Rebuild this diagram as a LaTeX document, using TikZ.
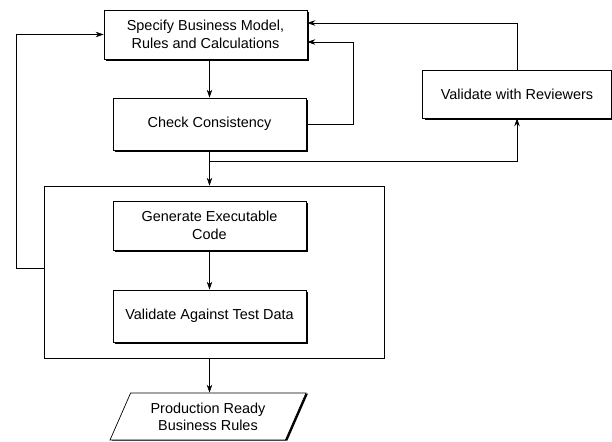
\documentclass[tikz,border=0pt]{standalone}
\usepackage{fontspec}
\setmainfont{Liberation Sans}
\usetikzlibrary{arrows.meta, positioning, shapes.geometric, shadows}

\tikzset{
  procbox/.style={draw=black, line width=0.7bp, fill=white, align=center,
    font=\fontsize{14.5}{18}\selectfont, minimum width=193bp, minimum height=50bp, inner sep=2bp,
    drop shadow={shadow xshift=2bp, shadow yshift=-2bp, fill=black, opacity=1}},
  groupbox/.style={draw=black, line width=0.6bp, minimum width=340bp, minimum height=172bp, inner sep=0pt},
  outbox/.style={trapezium, trapezium left angle=61, trapezium right angle=119, trapezium stretches=true,
    draw=black, line width=0.7bp, fill=white, align=center, font=\fontsize{14.5}{17}\selectfont,
    minimum width=196bp, minimum height=47bp, inner sep=0pt,
    drop shadow={shadow xshift=2bp, shadow yshift=-0.5bp, fill=black, opacity=1}},
  flow/.style={draw=black, line width=0.6bp, -{Stealth[length=8bp, width=5.5bp]}},
  link/.style={draw=black, line width=0.6bp}
}

\begin{document}
\begin{tikzpicture}[x=1bp, y=-1bp]
\useasboundingbox (0,0) rectangle (612,442);

% === Review loop ===
\node[procbox, minimum width=203bp, minimum height=49bp] (spec) at (205.5,34.5) {Specify Business Model,\\Rules and Calculations};
\node[procbox, minimum height=52bp] (check) at (209.5,124) {Check Consistency};
\node[procbox, minimum width=189bp, minimum height=48bp] (review) at (517,94) {Validate with Reviewers};

% === Build stage ===
\node[groupbox] (stage) at (214,272) {};
\node[procbox, minimum height=49bp] (gen) at (209.5,225.5) {Generate Executable\\Code};
\node[procbox, minimum height=52bp] (valtest) at (209.5,316) {Validate Against Test Data};

% === Output ===
\node[outbox] (prod) at (208,416.5) {Production Ready\\Business Rules};

% === Connectors ===
\draw[flow] (spec.south -| check.north) -- (check.north);
\draw[flow] (check.east) -| ([xshift=46bp, yshift=-7.5bp]spec.east) -- ([yshift=-7.5bp]spec.east);
\draw[flow] (review.north) |- ([yshift=11.5bp]spec.east);
\draw[flow] (check.south) -- (check.south |- stage.north);
\coordinate (split) at ([yshift=-11bp]check.south);
\draw[flow] (split) -| (review.south);
\draw[flow] ([yshift=4bp]stage.west) -| ([xshift=-87bp]spec.west) -- (spec.west);
\draw[flow] (gen) -- (valtest);
\draw[flow] (stage.south -| gen) -- (prod.north -| gen);

\end{tikzpicture}
\end{document}
